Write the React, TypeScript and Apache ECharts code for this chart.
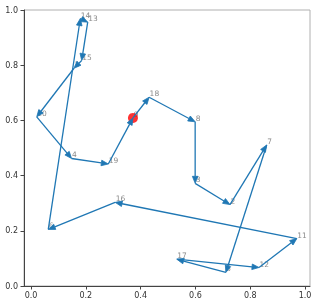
import React, { useEffect, useRef } from "react";
import * as echarts from "echarts";

// point ids with their coordinates
const pointIds = [0, 1, 2, 3, 4, 5, 6, 7, 8, 10, 11, 12, 13, 14, 15, 16, 17, 18, 19];
const xs = [0.372, 0.157, 0.726, 0.599, 0.148, 0.711, 0.063, 0.86, 0.599, 0.021, 0.97, 0.832, 0.207, 0.18, 0.185, 0.307, 0.532, 0.431, 0.282];
const ys = [0.609, 0.789, 0.295, 0.372, 0.462, 0.049, 0.205, 0.511, 0.595, 0.613, 0.172, 0.067, 0.956, 0.969, 0.817, 0.303, 0.097, 0.684, 0.442];
// visiting order of the tour
const tour = [0, 18, 8, 3, 2, 7, 5, 17, 12, 11, 16, 6, 14, 13, 15, 1, 10, 4, 19, 0];
const startId = 0;
const xTicks = [0, 0.2, 0.4, 0.6, 0.8, 1.0];
const yTicks = [0, 0.2, 0.4, 0.6, 0.8, 1.0];

const BLUE = "#1f77b4";

function pos(id: number): [number, number] {
  const i = pointIds.indexOf(id);
  return [xs[i], ys[i]];
}

export default function App() {
  const ref = useRef<HTMLDivElement>(null);
  useEffect(() => {
    if (!ref.current) return;
    const chart = echarts.init(ref.current, null, { renderer: "svg" });
    const segs: number[][] = [];
    for (let k = 0; k < tour.length - 1; k++) {
      const a = pos(tour[k]);
      const b = pos(tour[k + 1]);
      segs.push([a[0], a[1], b[0], b[1]]);
    }
    const labels = pointIds.map((id, i) => [xs[i], ys[i], id]);
    const axisCommon = {
      axisLine: { onZero: false, lineStyle: { color: "#444", width: 1 } },
      axisTick: { show: true, inside: false, length: 3.5, lineStyle: { color: "#444" } },
      splitLine: { show: false },
    };
    chart.setOption({
      animation: false,
      grid: { left: 24, top: 10, right: 10, bottom: 21, show: true, borderColor: "#b0b0b0", borderWidth: 1 },
      xAxis: {
        type: "value",
        min: -0.0255,
        max: 1.018,
        ...axisCommon,
        axisTick: { ...axisCommon.axisTick, customValues: xTicks },
        axisLabel: {
          customValues: xTicks,
          formatter: (v: number) => v.toFixed(1),
          fontFamily: "DejaVu Sans",
          fontSize: 8,
          color: "#333",
          margin: 5,
        },
      },
      yAxis: {
        type: "value",
        min: 0,
        max: 1.0,
        ...axisCommon,
        axisTick: { ...axisCommon.axisTick, customValues: yTicks },
        axisLabel: {
          customValues: yTicks,
          formatter: (v: number) => v.toFixed(1),
          fontFamily: "DejaVu Sans",
          fontSize: 8,
          color: "#333",
          margin: 6,
        },
      },
      series: [
        {
          type: "custom",
          z: 1,
          data: labels,
          renderItem: (params: any, api: any) => {
            const p = api.coord([api.value(0), api.value(1)]);
            return {
              type: "text",
              x: p[0] + 0.5,
              y: p[1] + 0.5,
              style: {
                text: String(api.value(2)),
                fill: "#8a8a8a",
                font: "7.5px 'DejaVu Sans'",
                align: "left",
                verticalAlign: "bottom",
                textAlign: "left",
                textVerticalAlign: "bottom",
              },
            };
          },
        },
        {
          type: "scatter",
          z: 2,
          data: [pos(startId)],
          symbolSize: 10,
          itemStyle: { color: "#ff0000" },
        },
        {
          type: "custom",
          z: 3,
          data: segs,
          encode: { x: [0, 2], y: [1, 3] },
          renderItem: (params: any, api: any) => {
            const a = api.coord([api.value(0), api.value(1)]);
            const b = api.coord([api.value(2), api.value(3)]);
            const dx = b[0] - a[0];
            const dy = b[1] - a[1];
            const len = Math.sqrt(dx * dx + dy * dy) || 1;
            const ux = dx / len;
            const uy = dy / len;
            const hl = 7;
            const hw = 2.8;
            const bx = b[0] - ux * hl;
            const by = b[1] - uy * hl;
            const px = -uy * hw;
            const py = ux * hw;
            return {
              type: "group",
              children: [
                {
                  type: "line",
                  shape: { x1: a[0], y1: a[1], x2: bx, y2: by },
                  style: { stroke: BLUE, lineWidth: 1.3 },
                },
                {
                  type: "polygon",
                  shape: { points: [[b[0], b[1]], [bx + px, by + py], [bx - px, by - py]] },
                  style: { fill: BLUE, stroke: BLUE, lineWidth: 0.8 },
                },
              ],
            };
          },
        },
      ],
    });
    return () => chart.dispose();
  }, []);
  return <div ref={ref} style={{ position: "fixed", left: 0, top: 0, width: 320, height: 307 }} />;
}
